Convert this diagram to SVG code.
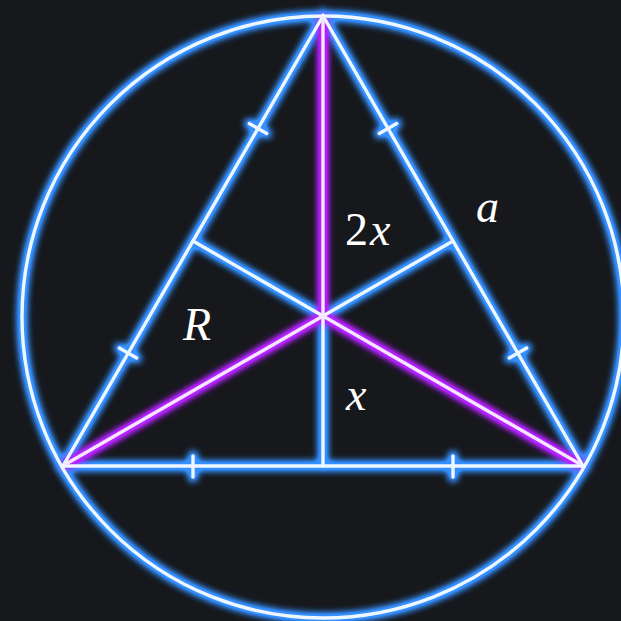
<svg xmlns="http://www.w3.org/2000/svg" width="621" height="621" viewBox="0 0 621 621">
<defs>
<filter id="glow" x="-20%" y="-20%" width="140%" height="140%">
<feGaussianBlur stdDeviation="3.5"/>
<feComponentTransfer><feFuncA type="linear" slope="1.6"/></feComponentTransfer>
</filter>
<style>
.gb{fill:none;stroke:#3590ff;stroke-width:9;stroke-linecap:round}
.gp{fill:none;stroke:#b422ff;stroke-width:9;stroke-linecap:round}
.cb{fill:none;stroke:#eef7ff;stroke-width:3.4;stroke-linecap:round}
.cp{fill:none;stroke:#f6e6ff;stroke-width:3.4;stroke-linecap:round}
.lbl{font-family:"Liberation Serif","DejaVu Serif",serif;font-size:46px;fill:#ffffff}
.it{font-style:italic}
</style>
</defs>
<rect width="621" height="621" fill="#16181c"/>
<g id="connectors">
<g filter="url(#glow)" class="gb">
<circle cx="323" cy="317" r="301"/>
<path d="M323,16 L63,466 L583,466 Z"/>
<path d="M193,241 L323,316 L453,241 M323,316 L323,466"/>
<path d="M119.3,348 L136.7,358 M249.3,123.5 L266.7,133.5 M379.3,133.5 L396.7,123.5 M509.3,358 L526.7,348 M193,456 L193,477 M453,456 L453,477"/>
</g>
<g filter="url(#glow)" class="gp">
<path d="M323,20 L323,316 M67,464 L323,316 L579,464"/>
</g>
<g class="cb">
<circle cx="323" cy="317" r="301"/>
<path d="M323,16 L63,466 L583,466 Z"/>
<path d="M193,241 L323,316 L453,241 M323,316 L323,466"/>
<path d="M119.3,348 L136.7,358 M249.3,123.5 L266.7,133.5 M379.3,133.5 L396.7,123.5 M509.3,358 L526.7,348 M193,456 L193,477 M453,456 L453,477"/>
</g>
<g class="cp">
<path d="M323,18 L323,316 M66,464 L323,316 L580,464"/>
</g>
</g>
<g id="label-2x"><text class="lbl" x="345" y="245">2<tspan class="it" dx="2">x</tspan></text></g>
<g id="label-a"><text class="lbl it" x="476" y="222">a</text></g>
<g id="label-R"><text class="lbl it" x="183" y="340">R</text></g>
<g id="label-x"><text class="lbl it" x="346" y="410">x</text></g>
</svg>
